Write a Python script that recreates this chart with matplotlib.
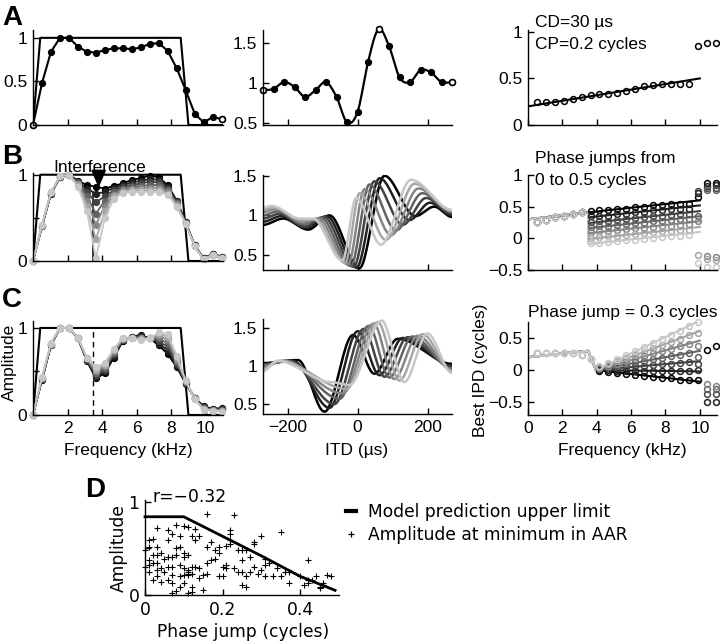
import numpy as np
import matplotlib
matplotlib.use("Agg")
import matplotlib.pyplot as plt
from matplotlib.lines import Line2D

W, H = 720, 642

# --- data ---------------------------------------------------------------

freq = [0, 0.52, 1.04, 1.56, 2.08, 2.6, 3.12, 3.64, 4.16, 4.68, 5.2, 5.72,
        6.24, 6.76, 7.28, 7.8, 8.32, 8.84, 9.36, 9.88, 10.4, 10.92]
trap_f = [0, 0.42, 8.55, 9.0, 11]
trap_a = [0, 1, 1, 0, 0]

# row A
amp_a = [0, 0.48, 0.84, 1.0, 1.0, 0.9, 0.84, 0.83, 0.86, 0.88, 0.88, 0.87,
         0.89, 0.93, 0.94, 0.85, 0.65, 0.4, 0.13, 0.03, 0.09, 0.07]
itd_a = [-270, -240, -210, -180, -150, -120, -90, -60, -30, 0, 30, 60, 90,
         120, 150, 180, 210, 240, 270]
rate_a = [0.91, 0.925, 1.01, 0.95, 0.825, 0.91, 1.01, 0.825, 0.51, 0.635, 1.26,
          1.67, 1.46, 1.07, 1.01, 1.16, 1.13, 1.01, 1.01]
ipd_a = [0.25, 0.245, 0.245, 0.26, 0.28, 0.30, 0.325, 0.33, 0.33, 0.34, 0.36,
         0.385, 0.415, 0.43, 0.44, 0.44, 0.44, 0.44, 0.85, 0.885, 0.885]
fit_a_f = [0, 10]
fit_a = [0.2, 0.5]

# row B (phase jumps 0 .. 0.5 cycles, black -> light grey)
amp_b = [
    [0, 0.40, 0.78, 0.97, 1.00, 0.93, 0.88, 0.86, 0.84, 0.87, 0.90, 0.94, 0.96, 0.99, 0.97, 0.88, 0.70, 0.45, 0.18, 0.03, 0.08, 0.05],
    [0, 0.40, 0.78, 0.97, 1.00, 0.92, 0.84, 0.78, 0.80, 0.85, 0.88, 0.91, 0.93, 0.95, 0.94, 0.86, 0.69, 0.45, 0.18, 0.03, 0.08, 0.05],
    [0, 0.41, 0.79, 0.97, 1.00, 0.91, 0.80, 0.68, 0.75, 0.82, 0.86, 0.88, 0.90, 0.92, 0.91, 0.84, 0.68, 0.44, 0.18, 0.03, 0.08, 0.05],
    [0, 0.41, 0.79, 0.97, 1.00, 0.90, 0.75, 0.55, 0.70, 0.80, 0.84, 0.86, 0.87, 0.88, 0.88, 0.82, 0.67, 0.44, 0.17, 0.02, 0.07, 0.04],
    [0, 0.41, 0.79, 0.98, 1.00, 0.89, 0.70, 0.42, 0.64, 0.77, 0.82, 0.84, 0.85, 0.85, 0.85, 0.80, 0.66, 0.44, 0.17, 0.02, 0.07, 0.04],
    [0, 0.42, 0.80, 0.98, 1.00, 0.88, 0.64, 0.25, 0.58, 0.75, 0.80, 0.82, 0.82, 0.82, 0.82, 0.78, 0.64, 0.43, 0.17, 0.02, 0.07, 0.04],
    [0, 0.42, 0.80, 0.98, 1.00, 0.86, 0.58, 0.03, 0.50, 0.72, 0.79, 0.80, 0.80, 0.80, 0.80, 0.77, 0.63, 0.43, 0.17, 0.02, 0.07, 0.04],
]
# ITD functions: extrema (ITD, rate) of each curve
itd_b = [
    [-270, -212, -141, -80, 5, 77, 165, 219, 270],
    [-270, -218, -146, -88, -3, 63, 148, 207, 270],
    [-270, -224, -150, -96, -11, 48, 129, 196, 270],
    [-270, -229, -154, -104, -19, 34, 110, 185, 270],
    [-270, -234, -157, -112, -27, 20, 96, 174, 270],
    [-270, -240, -160, -120, -35, 6, 81, 163, 270],
    [-270, -245, -165, -128, -43, -4, 67, 153, 270],
]
rate_b = [
    [0.88, 0.96, 0.82, 1.00, 0.33, 1.50, 0.99, 1.11, 0.98],
    [0.92, 0.99, 0.84, 0.99, 0.34, 1.47, 0.94, 1.16, 1.00],
    [0.96, 1.02, 0.86, 0.98, 0.35, 1.43, 0.88, 1.22, 1.02],
    [1.00, 1.05, 0.89, 0.97, 0.36, 1.39, 0.81, 1.28, 1.04],
    [1.04, 1.08, 0.91, 0.96, 0.38, 1.33, 0.75, 1.34, 1.05],
    [1.07, 1.10, 0.94, 0.95, 0.40, 1.28, 0.69, 1.40, 1.06],
    [1.10, 1.12, 0.96, 0.96, 0.43, 1.22, 0.63, 1.45, 1.07],
]
fit_b_start = [0.30, 0.41]          # at 0 and 3.5 kHz
fit_b_lo = [0.41, 0.33, 0.24, 0.16, 0.08, -0.01, -0.09]   # just after 3.5 kHz
fit_b_hi = [0.60, 0.52, 0.43, 0.35, 0.27, 0.18, 0.10]     # at 10 kHz
ipd_b_low = [0.26, 0.29, 0.33, 0.36, 0.39, 0.42]          # 0.52 .. 3.12 kHz
ipd_b = [
    [0.43, 0.44, 0.44, 0.46, 0.47, 0.49, 0.50, 0.52, 0.53, 0.54, 0.55, 0.55, 0.65, 0.87, 0.88],
    [0.35, 0.36, 0.36, 0.38, 0.39, 0.41, 0.42, 0.44, 0.45, 0.46, 0.47, 0.47, 0.71, 0.83, 0.85],
    [0.26, 0.27, 0.28, 0.29, 0.31, 0.32, 0.34, 0.35, 0.36, 0.37, 0.38, 0.39, 0.75, 0.79, 0.80],
    [0.18, 0.19, 0.19, 0.21, 0.22, 0.24, 0.25, 0.27, 0.28, 0.29, 0.30, 0.30, 0.35, 0.76, 0.76],
    [0.10, 0.11, 0.11, 0.13, 0.14, 0.16, 0.17, 0.18, 0.19, 0.20, 0.21, 0.22, 0.27, -0.28, -0.30],
    [0.01, 0.02, 0.03, 0.04, 0.06, 0.07, 0.08, 0.10, 0.11, 0.12, 0.13, 0.13, -0.26, -0.33, -0.34],
    [-0.08, -0.07, -0.06, -0.04, -0.03, -0.02, -0.01, 0.01, 0.02, 0.03, 0.04, 0.05, -0.39, -0.45, -0.45],
]

# row C (phase jump 0.3 cycles, different CDs above 3.5 kHz)
amp_c = [
    [0, 0.40, 0.80, 1.00, 1.00, 0.88, 0.62, 0.42, 0.48, 0.66, 0.85, 0.90, 0.92, 0.88, 0.80, 0.70, 0.55, 0.36, 0.20, 0.10, 0.07, 0.08],
    [0, 0.41, 0.80, 1.00, 1.00, 0.88, 0.63, 0.44, 0.50, 0.68, 0.86, 0.90, 0.91, 0.88, 0.82, 0.74, 0.57, 0.37, 0.20, 0.09, 0.07, 0.07],
    [0, 0.41, 0.81, 1.00, 1.00, 0.88, 0.63, 0.46, 0.52, 0.70, 0.86, 0.90, 0.90, 0.88, 0.85, 0.78, 0.59, 0.37, 0.19, 0.09, 0.06, 0.07],
    [0, 0.42, 0.81, 1.00, 1.00, 0.89, 0.64, 0.48, 0.54, 0.71, 0.87, 0.89, 0.89, 0.88, 0.88, 0.82, 0.61, 0.38, 0.19, 0.08, 0.06, 0.06],
    [0, 0.42, 0.82, 1.00, 1.00, 0.89, 0.65, 0.50, 0.56, 0.73, 0.87, 0.89, 0.88, 0.88, 0.91, 0.86, 0.63, 0.39, 0.19, 0.07, 0.06, 0.05],
    [0, 0.43, 0.82, 1.00, 1.00, 0.89, 0.65, 0.52, 0.58, 0.75, 0.88, 0.88, 0.87, 0.88, 0.93, 0.90, 0.66, 0.39, 0.18, 0.07, 0.05, 0.05],
    [0, 0.44, 0.83, 1.00, 1.00, 0.89, 0.66, 0.55, 0.60, 0.76, 0.88, 0.88, 0.86, 0.88, 0.95, 0.93, 0.68, 0.40, 0.18, 0.06, 0.05, 0.04],
]
itd_c = [
    [-270, -170, -94, -13, 48, 115, 270],
    [-270, -185, -80, 1, 63, 129, 270],
    [-270, -195, -66, 18, 77, 143, 270],
    [-270, -205, -51, 32, 91, 157, 270],
    [-270, -215, -42, 46, 105, 172, 270],
    [-270, -222, -32, 58, 120, 186, 270],
    [-270, -230, -75, -23, 69, 134, 200, 270],
]
rate_c = [
    [1.04, 1.08, 0.40, 1.41, 0.90, 1.36, 1.03],
    [1.03, 1.07, 0.45, 1.46, 0.88, 1.37, 1.01],
    [1.02, 1.07, 0.50, 1.49, 0.86, 1.38, 0.99],
    [1.01, 1.07, 0.57, 1.53, 0.85, 1.39, 0.97],
    [0.99, 1.07, 0.64, 1.56, 0.83, 1.40, 0.95],
    [0.96, 1.07, 0.70, 1.58, 0.81, 1.42, 0.93],
    [0.93, 1.07, 0.79, 0.75, 1.60, 0.79, 1.43, 0.91],
]
fit_c_f = [0, 3.5, 3.95, 10]
fit_c_start = [0.2, 0.3, 0.0]
fit_c_end = [-0.18, -0.02, 0.14, 0.30, 0.46, 0.61, 0.77]
ipd_c_low = [0.26, 0.27, 0.27, 0.27, 0.27, 0.24, 0.18]    # 0.52 .. 3.64 kHz
ipd_c = [
    [-0.02, -0.03, -0.05, -0.06, -0.07, -0.09, -0.10, -0.12, -0.13, -0.15, -0.16, -0.15, 0.32, 0.37],
    [0.00, 0.00, -0.01, -0.01, -0.01, -0.01, -0.01, -0.02, -0.02, -0.02, -0.02, 0.00, -0.50, -0.50],
    [0.02, 0.03, 0.04, 0.05, 0.06, 0.07, 0.08, 0.09, 0.10, 0.11, 0.12, 0.10, -0.38, -0.38],
    [0.03, 0.05, 0.07, 0.09, 0.12, 0.14, 0.17, 0.19, 0.22, 0.24, 0.27, 0.20, -0.30, -0.30],
    [0.04, 0.07, 0.10, 0.14, 0.18, 0.22, 0.26, 0.30, 0.33, 0.37, 0.41, 0.38, -0.21, -0.25],
    [0.05, 0.09, 0.14, 0.19, 0.24, 0.29, 0.34, 0.39, 0.44, 0.49, 0.54, 0.58, np.nan, np.nan],
    [0.06, 0.11, 0.17, 0.23, 0.30, 0.36, 0.42, 0.49, 0.55, 0.61, 0.68, 0.75, np.nan, np.nan],
]

# panel D
model_jump = [0, 0.1, 0.2, 0.3, 0.4, 0.49]
model_amp = [0.84, 0.84, 0.63, 0.42, 0.2, 0.05]
d_phase = [
    0.16, 0.23, 0.01, 0.02, 0.03, 0.06, 0.08, 0.10, 0.11, 0.13,
    0.07, 0.06, 0.09, 0.12, 0.14, 0.13, 0.35, 0.30, 0.28, 0.28,
    0.22, 0.22, 0.21, 0.25, 0.24, 0.26, 0.18, 0.17, 0.16, 0.01,
    0.03, 0.00, 0.02, 0.03, 0.04, 0.01, 0.02, 0.01, 0.00, 0.03,
    0.05, 0.06, 0.04, 0.03, 0.01, 0.05, 0.06, 0.07, 0.03, 0.02,
    0.04, 0.06, 0.08, 0.09, 0.07, 0.08, 0.10, 0.10, 0.11, 0.07,
    0.09, 0.10, 0.11, 0.12, 0.11, 0.12, 0.11, 0.11, 0.13, 0.14,
    0.10, 0.09, 0.07, 0.09, 0.08, 0.07, 0.10, 0.12, 0.11, 0.12,
    0.15, 0.15, 0.16, 0.17, 0.18, 0.16, 0.14, 0.19, 0.20, 0.20,
    0.21, 0.21, 0.23, 0.24, 0.25, 0.25, 0.27, 0.27, 0.28, 0.26,
    0.25, 0.26, 0.31, 0.31, 0.32, 0.31, 0.34, 0.35, 0.36, 0.37,
    0.37, 0.40, 0.42, 0.42, 0.41, 0.43, 0.42, 0.44, 0.45, 0.45,
    0.47, 0.48, 0.46, 0.46, 0.22, 0.22, 0.19, 0.19, 0.29, 0.30,
    0.33]
d_amp = [
    0.87, 0.86, 0.59, 0.60, 0.72, 0.70, 0.75, 0.74, 0.73, 0.71,
    0.66, 0.59, 0.63, 0.63, 0.63, 0.59, 0.68, 0.63, 0.57, 0.55,
    0.70, 0.65, 0.53, 0.48, 0.48, 0.48, 0.48, 0.57, 0.52, 0.52,
    0.52, 0.48, 0.43, 0.43, 0.45, 0.38, 0.34, 0.32, 0.30, 0.34,
    0.39, 0.41, 0.29, 0.27, 0.25, 0.25, 0.30, 0.21, 0.20, 0.16,
    0.14, 0.16, 0.50, 0.52, 0.41, 0.43, 0.41, 0.45, 0.43, 0.30,
    0.32, 0.29, 0.27, 0.30, 0.25, 0.23, 0.23, 0.21, 0.30, 0.29,
    0.21, 0.20, 0.13, 0.09, 0.04, 0.02, 0.13, 0.09, 0.02, 0.03,
    0.05, 0.21, 0.23, 0.38, 0.39, 0.34, 0.18, 0.20, 0.20, 0.30,
    0.32, 0.29, 0.29, 0.25, 0.38, 0.25, 0.25, 0.41, 0.30, 0.09,
    0.11, 0.20, 0.39, 0.32, 0.34, 0.20, 0.29, 0.20, 0.25, 0.25,
    0.13, 0.20, 0.38, 0.16, 0.11, 0.16, 0.13, 0.20, 0.09, 0.07,
    0.21, 0.20, 0.13, 0.11, 0.59, 0.55, 0.45, 0.52, 0.23, 0.27,
    0.20]

# --- helpers ----------------------------------------------------------------

plt.rcParams["font.family"] = ["Liberation Sans", "DejaVu Sans"]
FS = 12.5
GREYS = [str(g) for g in np.linspace(0, 0.78, 7)]

fig = plt.figure(figsize=(W / 100, H / 100), dpi=100)


def px_ax(l, t, r, b):
    return fig.add_axes([l / W, 1 - b / H, (r - l) / W, (b - t) / H])


def fig_text(x, y, s, **kw):
    kw.setdefault("fontsize", FS)
    fig.text(x / W, 1 - y / H, s, **kw)


def style(ax):
    for side in ("top", "right"):
        ax.spines[side].set_visible(False)
    for side in ("left", "bottom"):
        ax.spines[side].set_linewidth(1)
    ax.tick_params(direction="in", length=4, width=1, labelsize=FS, pad=4)


def smooth_curve(x, y, flat=False, n=24):
    # piecewise cubic hermite through the read points (drawing only)
    x = np.asarray(x, float)
    y = np.asarray(y, float)
    m = np.zeros_like(y) if flat else np.gradient(y, x)
    t = np.linspace(0, 1, n, endpoint=False)
    h00 = 2 * t**3 - 3 * t**2 + 1
    h10 = t**3 - 2 * t**2 + t
    h01 = -2 * t**3 + 3 * t**2
    h11 = t**3 - t**2
    xs, ys = [], []
    for i in range(len(x) - 1):
        h = x[i + 1] - x[i]
        xs.append(x[i] + t * h)
        ys.append(h00 * y[i] + h10 * h * m[i] + h01 * y[i + 1] + h11 * h * m[i + 1])
    xs.append([x[-1]])
    ys.append([y[-1]])
    return np.concatenate(xs), np.concatenate(ys)


def freq_axis(ax, ylim, labels=False):
    style(ax)
    ax.set_xlim(0, 11)
    ax.set_ylim(*ylim)
    ax.set_xticks([2, 4, 6, 8, 10])
    if not labels:
        ax.set_xticklabels([])


def itd_axis(ax, ylim, labels=False):
    style(ax)
    ax.set_xlim(-270, 270)
    ax.set_ylim(*ylim)
    ax.set_xticks([-200, 0, 200])
    ax.set_yticks([0.5, 1, 1.5])
    ax.set_yticklabels(["0.5", "1", "1.5"])
    if not labels:
        ax.set_xticklabels([])


def ipd_axis(ax, ylim, yticks, labels=False):
    style(ax)
    ax.set_xlim(0, 11)
    ax.set_ylim(*ylim)
    ax.set_xticks([0, 2, 4, 6, 8, 10])
    ax.set_yticks(yticks)
    ax.set_yticklabels([("%g" % v).replace("-", "\u2212") for v in yticks])
    if not labels:
        ax.set_xticklabels([])


freq = np.array(freq)
mk = dict(ms=4.2, clip_on=False)
circ = dict(ls="none", marker="o", mfc="none", ms=4.2, mew=1.1, clip_on=False)

# --- row A ------------------------------------------------------------------
ax = px_ax(33, 30, 223, 125)
freq_axis(ax, (0, 1.09))
ax.plot(trap_f, trap_a, color="k", lw=1.5)
ax.plot(freq, amp_a, "-o", color="k", lw=1.5, **mk)
ax.plot(freq[[0, -1]], np.array(amp_a)[[0, -1]], "o", mfc="white", mec="k", mew=1.2, **mk)
ax.set_yticks([0, 0.5, 1])
ax.set_yticklabels(["0", "0.5", "1"])

ax = px_ax(263, 30, 452, 125)
itd_axis(ax, (0.475, 1.66))
xs, ys = smooth_curve(itd_a, rate_a)
ax.plot(xs, ys, color="k", lw=1.6)
ax.plot(itd_a, rate_a, "o", color="k", **mk)
idx = [0, 11, 18]
ax.plot(np.array(itd_a)[idx], np.array(rate_a)[idx], "o", mfc="white", mec="k", mew=1.2, **mk)

ax = px_ax(528, 30, 717, 125)
ipd_axis(ax, (0, 1.02), [0, 0.5, 1])
ax.plot(fit_a_f, fit_a, color="k", lw=1.5)
ax.plot(freq[1:], ipd_a, color="k", **circ)
fig_text(535, 22, "CD=30 \u00b5s", va="center")
fig_text(535, 44, "CP=0.2 cycles", va="center")

# --- row B ------------------------------------------------------------------
ax = px_ax(33, 173, 223, 261)
freq_axis(ax, (0, 1.02))
ax.plot(trap_f, trap_a, color="k", lw=1.5)
ax.plot([3.5, 3.5], [0, 0.8], color="k", lw=1.1)
for k in range(7):
    ax.plot(freq, amp_b[k], "-o", color=GREYS[k], mec=GREYS[k], lw=1.3, **mk)
ax.set_yticks([0, 0.5, 1])
ax.set_yticklabels(["0", "", "1"])
ax.annotate("", xy=(3.8, 0.85), xytext=(3.8, 1.0),
            arrowprops=dict(arrowstyle="-|>,head_length=0.7,head_width=0.3",
                            mutation_scale=16, color="k", lw=1,
                            shrinkA=0, shrinkB=0))
fig_text(100, 168, "Interference", ha="center", va="center")

ax = px_ax(263, 175, 452, 270)
itd_axis(ax, (0.31, 1.51))
for k in range(7):
    xs, ys = smooth_curve(itd_b[k], rate_b[k], flat=True)
    ax.plot(xs, ys, color=GREYS[k], lw=1.8)

ax = px_ax(528, 175, 717, 270)
ipd_axis(ax, (-0.5, 1.0), [-0.5, 0, 0.5, 1])
for k in range(7):
    ax.plot([0, 3.5, 3.5, 10], fit_b_start + [fit_b_lo[k], fit_b_hi[k]], color=GREYS[k], lw=1.5)
for k in range(7):
    ax.plot(freq[1:7], ipd_b_low, color=GREYS[k], mec=GREYS[k], **circ)
    ax.plot(freq[7:], ipd_b[k], color=GREYS[k], mec=GREYS[k], **circ)
fig_text(535, 159, "Phase jumps from", va="center")
fig_text(535, 181, "0 to 0.5 cycles", va="center")

# --- row C ------------------------------------------------------------------
ax = px_ax(33, 321, 223, 415)
freq_axis(ax, (0, 1.08), labels=True)
ax.plot(trap_f, trap_a, color="k", lw=1.5)
ax.plot([3.5, 3.5], [0, 1], color="k", lw=1, ls=(0, (4, 3)))
for k in range(7):
    ax.plot(freq, amp_c[k], "-o", color=GREYS[k], mec=GREYS[k], lw=1.3, **mk)
ax.set_yticks([0, 0.5, 1])
ax.set_yticklabels(["0", "", "1"])

ax = px_ax(263, 319, 452, 414)
itd_axis(ax, (0.37, 1.62), labels=True)
for k in range(7):
    xs, ys = smooth_curve(itd_c[k], rate_c[k], flat=True)
    ax.plot(xs, ys, color=GREYS[k], lw=1.8)

ax = px_ax(528, 322, 717, 415)
ipd_axis(ax, (-0.7, 0.75), [-0.5, 0, 0.5], labels=True)
for k in range(7):
    ax.plot(fit_c_f, fit_c_start + [fit_c_end[k]], color=GREYS[k], lw=1.5)
for k in range(7):
    ax.plot(freq[1:8], ipd_c_low, color=GREYS[6], mec=GREYS[6], **circ)
    ax.plot(freq[8:], ipd_c[k], color=GREYS[k], mec=GREYS[k], **circ)
fig_text(528, 313, "Phase jump = 0.3 cycles", va="center")

# axis titles, rows A-C
fig_text(128, 451, "Frequency (kHz)", ha="center", va="center")
fig_text(357, 451, "ITD (\u00b5s)", ha="center", va="center")
fig_text(622, 451, "Frequency (kHz)", ha="center", va="center")
fig_text(9, 362, "Amplitude", ha="center", va="center", rotation=90)
fig_text(481, 370, "Best IPD (cycles)", ha="center", va="center", rotation=90)

# panel letters
for letter, (x, y) in zip("ABCD", [(12, 18), (12, 157), (12, 300), (95, 490)]):
    fig_text(x, y, letter, ha="center", va="center", fontsize=20, fontweight="bold")

# --- panel D ----------------------------------------------------------------
DV = "DejaVu Sans"
FSD = 12.3
ax = px_ax(145, 500, 339, 595)
style(ax)
ax.set_xlim(0, 0.5)
ax.set_ylim(0, 1.02)
ax.set_xticks([0, 0.2, 0.4])
ax.set_xticklabels(["0", "0.2", "0.4"])
ax.set_yticks([0, 0.5, 1])
ax.set_yticklabels(["0", "", "1"])
for lab in ax.get_xticklabels() + ax.get_yticklabels():
    lab.set_family(DV)
    lab.set_fontsize(FSD)
ax.plot(model_jump, model_amp, color="k", lw=2, clip_on=False)
ax.plot(d_phase, d_amp, "+", color="k", ms=4.5, mew=0.8, clip_on=False)
fig_text(153, 497, "r=\u22120.32", va="center", family=DV, fontsize=FSD)
fig_text(243, 632, "Phase jump (cycles)", ha="center", va="center", family=DV, fontsize=FSD)
fig_text(119, 548, "Amplitude", ha="center", va="center", rotation=90, family=DV, fontsize=FSD)

handles = [Line2D([], [], color="k", lw=3),
           Line2D([], [], ls="none", marker="+", color="k", ms=5, mew=0.9)]
ax.legend(handles, ["Model prediction upper limit", "Amplitude at minimum in AAR"],
          loc="upper left", bbox_to_anchor=(346 / W, 1 - 503 / H),
          bbox_transform=fig.transFigure, frameon=False, handlelength=0.6,
          handletextpad=0.7, labelspacing=0.3, borderpad=0, borderaxespad=0,
          prop=dict(family=DV, size=FSD))

fig.savefig("out.png", dpi=100)
